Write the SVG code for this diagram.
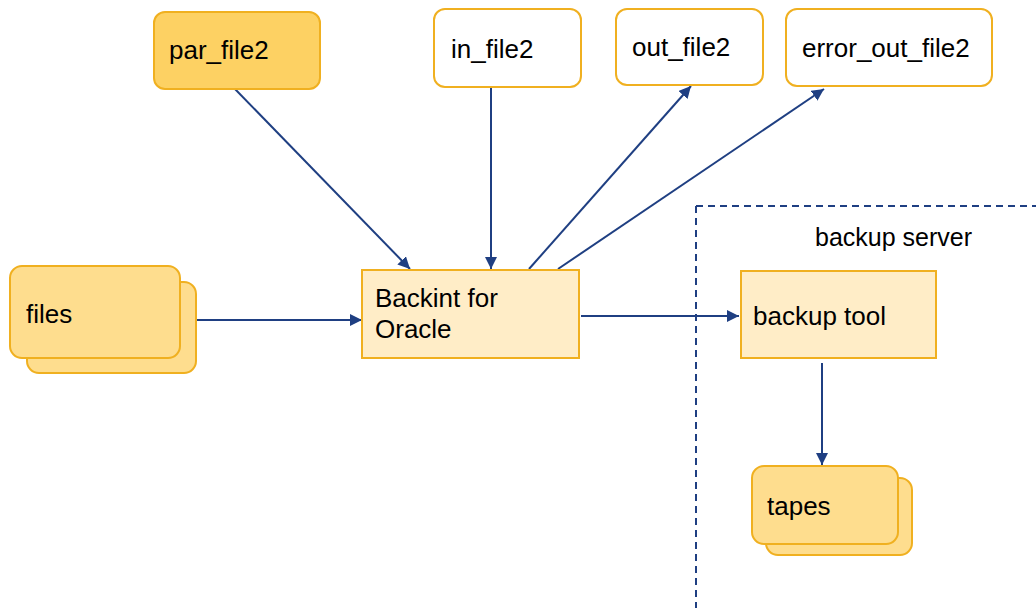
<svg xmlns="http://www.w3.org/2000/svg" width="1036" height="608" viewBox="0 0 1036 608">
<defs>
<style>
.lbl{font-family:"Liberation Sans",Arial,sans-serif;font-size:26px;fill:#000}
.srv{font-family:"Liberation Sans",Arial,sans-serif;font-size:25px;fill:#000}
.file{fill:#FFFFFF;stroke:#F0B020;stroke-width:2}
.par{fill:#FDD163;stroke:#F0B020;stroke-width:2}
.stack{fill:#FEDD8E;stroke:#F0B020;stroke-width:2}
.box{fill:#FFEDC7;stroke:#F0B020;stroke-width:2}
.conn{stroke:#1F3F82;stroke-width:2;fill:none;marker-end:url(#ah)}
.dash{stroke:#1F3F82;stroke-width:2;fill:none;stroke-dasharray:7 5}
</style>
<marker id="ah" viewBox="0 0 10 10" refX="10" refY="5" markerWidth="6" markerHeight="6" markerUnits="strokeWidth" orient="auto">
<path d="M0,0 L10,5 L0,10 z" fill="#1F3F82"/>
</marker>
</defs>
<rect width="1036" height="608" fill="#FFFFFF"/>
<g id="server-boundary">
<path class="dash" d="M696,206 H1036 M696,206 V608"/>
<text class="srv" x="815" y="246">backup server</text>
</g>
<g id="connectors">
<line class="conn" x1="235" y1="89" x2="410" y2="269"/>
<line class="conn" x1="491" y1="87" x2="491" y2="269"/>
<line class="conn" x1="529" y1="269" x2="691" y2="86"/>
<line class="conn" x1="558" y1="269" x2="824" y2="89"/>
<line class="conn" x1="197" y1="320" x2="362" y2="320"/>
<line class="conn" x1="581" y1="316" x2="739" y2="316"/>
<line class="conn" x1="822" y1="363" x2="822" y2="465"/>
</g>
<g id="par_file2">
<rect class="par" x="154" y="12" width="166" height="77" rx="11"/>
<text class="lbl" x="169" y="59">par_file2</text>
</g>
<g id="in_file2">
<rect class="file" x="434" y="9" width="147" height="78" rx="11"/>
<text class="lbl" x="451" y="58">in_file2</text>
</g>
<g id="out_file2">
<rect class="file" x="616" y="9" width="147" height="76" rx="11"/>
<text class="lbl" x="632" y="56">out_file2</text>
</g>
<g id="error_out_file2">
<rect class="file" x="786" y="9" width="206" height="77" rx="11"/>
<text class="lbl" x="802" y="57">error_out_file2</text>
</g>
<g id="files">
<rect class="stack" x="27" y="282" width="169" height="91" rx="12"/>
<rect class="stack" x="10" y="266" width="170" height="92" rx="12"/>
<text class="lbl" x="26" y="323">files</text>
</g>
<g id="backint">
<rect class="box" x="362" y="270" width="217" height="88"/>
<text class="lbl" x="375" y="307">Backint for</text>
<text class="lbl" x="375" y="338">Oracle</text>
</g>
<g id="backup_tool">
<rect class="box" x="741" y="271" width="195" height="87"/>
<text class="lbl" x="753" y="325">backup tool</text>
</g>
<g id="tapes">
<rect class="stack" x="766" y="478" width="146" height="77" rx="12"/>
<rect class="stack" x="752" y="466" width="146" height="78" rx="12"/>
<text class="lbl" x="767" y="515">tapes</text>
</g>
</svg>
